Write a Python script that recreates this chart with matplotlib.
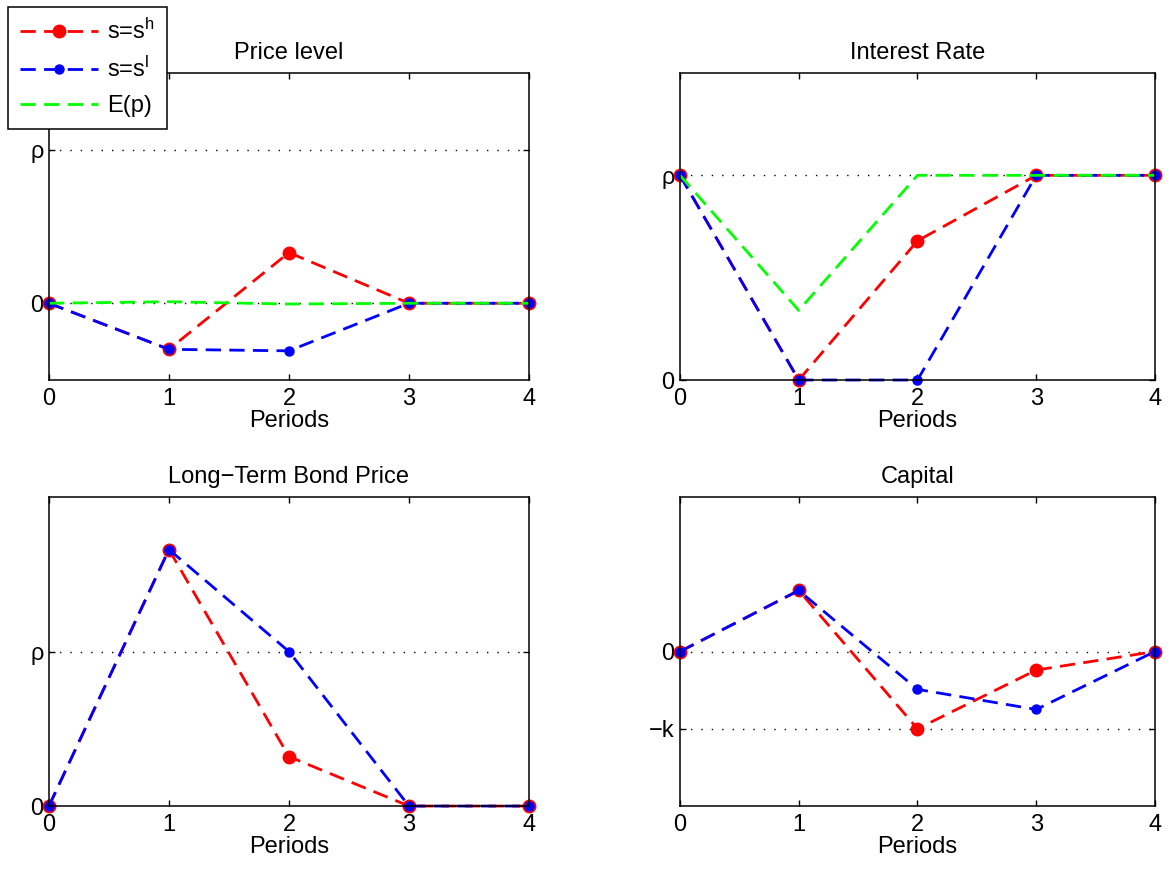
import matplotlib
matplotlib.use("Agg")
import matplotlib.pyplot as plt
import numpy as np

plt.rcParams["font.family"] = ["Liberation Sans", "DejaVu Sans"]
plt.rcParams["mathtext.fontset"] = "custom"
plt.rcParams["mathtext.rm"] = "Liberation Sans"
plt.rcParams["mathtext.it"] = "Liberation Sans"
plt.rcParams["font.size"] = 17

periods = [0, 1, 2, 3, 4]

# price level (rho = 1)
price_h = [0, -0.30, 0.33, 0, 0]
price_l = [0, -0.30, -0.31, 0, 0]
price_e = [0, 0.01, -0.005, 0, 0]

# interest rate
rate_h = [1, 0, 0.68, 1, 1]
rate_l = [1, 0, 0, 1, 1]
rate_e = [1, 0.34, 1, 1, 1]

# long-term bond price
bond_h = [0, 1.66, 0.32, 0, 0]
bond_l = [0, 1.66, 1.0, 0, 0]

# capital (k = 1)
cap_h = [0, 0.79, -1.0, -0.24, 0]
cap_l = [0, 0.79, -0.49, -0.75, 0]

fig = plt.figure(figsize=(11.71, 8.73), dpi=100)

pos = [
    [0.0418, 0.5647, 0.4099, 0.3517],
    [0.5807, 0.5647, 0.4056, 0.3517],
    [0.0418, 0.0767, 0.4099, 0.3540],
    [0.5807, 0.0767, 0.4056, 0.3540],
]
axs = [fig.add_axes(p) for p in pos]

dash = (5.5, 3)
dot = (1, 6.5)


def series(ax, h, l, e=None):
    ax.plot(periods, h, color="red", lw=2, dashes=dash, marker="o", ms=9,
            mfc="red", mec="red", label=r"s=s$^\mathregular{h}$")
    ax.plot(periods, l, color="blue", lw=2, dashes=dash, marker="o", ms=6.5,
            mfc="blue", mec="blue", label=r"s=s$^\mathregular{l}$")
    if e is not None:
        ax.plot(periods, e, color=(0, 1, 0), lw=2, dashes=dash, label="E(p)")


def style(ax, title, ylim, yticks, ylabels, hlines):
    for y in hlines:
        ax.axhline(y, color="black", lw=1, dashes=dot, zorder=1)
    ax.set_xlim(0, 4)
    ax.set_ylim(*ylim)
    ax.set_xticks(periods)
    ax.set_yticks(yticks)
    ax.set_yticklabels(ylabels)
    ax.set_xlabel("Periods", labelpad=0)
    ax.set_title(title, fontsize=17, pad=10)
    ax.tick_params(direction="in", top=True, right=True, length=4, width=1)
    ax.tick_params(axis="x", pad=6)
    ax.tick_params(axis="y", pad=4)
    for s in ax.spines.values():
        s.set_linewidth(1.1)
    for m in ax.lines:
        m.set_clip_on(False)


ax = axs[0]
series(ax, price_h, price_l, price_e)
style(ax, "Price level", (-0.5, 1.5), [0, 1], ["0", "ρ"], [1, 0])

ax = axs[1]
series(ax, rate_h, rate_l, rate_e)
style(ax, "Interest Rate", (0, 1.5), [0, 1], ["0", "ρ"], [1])

ax = axs[2]
series(ax, bond_h, bond_l)
style(ax, "Long\u2212Term Bond Price", (0, 2), [0, 1], ["0", "ρ"], [1])

ax = axs[3]
series(ax, cap_h, cap_l)
style(ax, "Capital", (-2, 2), [-1, 0], ["\u2212k", "0"], [0, -1])

handles, labels = axs[0].get_legend_handles_labels()
leg = fig.legend(handles, labels, loc="upper left", bbox_to_anchor=(0.0068, 0.992),
                 fancybox=False, edgecolor="black", framealpha=1, fontsize=17,
                 handlelength=3.3, handletextpad=0.4, borderpad=0.5,
                 labelspacing=0.55, borderaxespad=0, numpoints=1)
leg.get_frame().set_linewidth(1.1)

fig.savefig("out.png", dpi=100)
